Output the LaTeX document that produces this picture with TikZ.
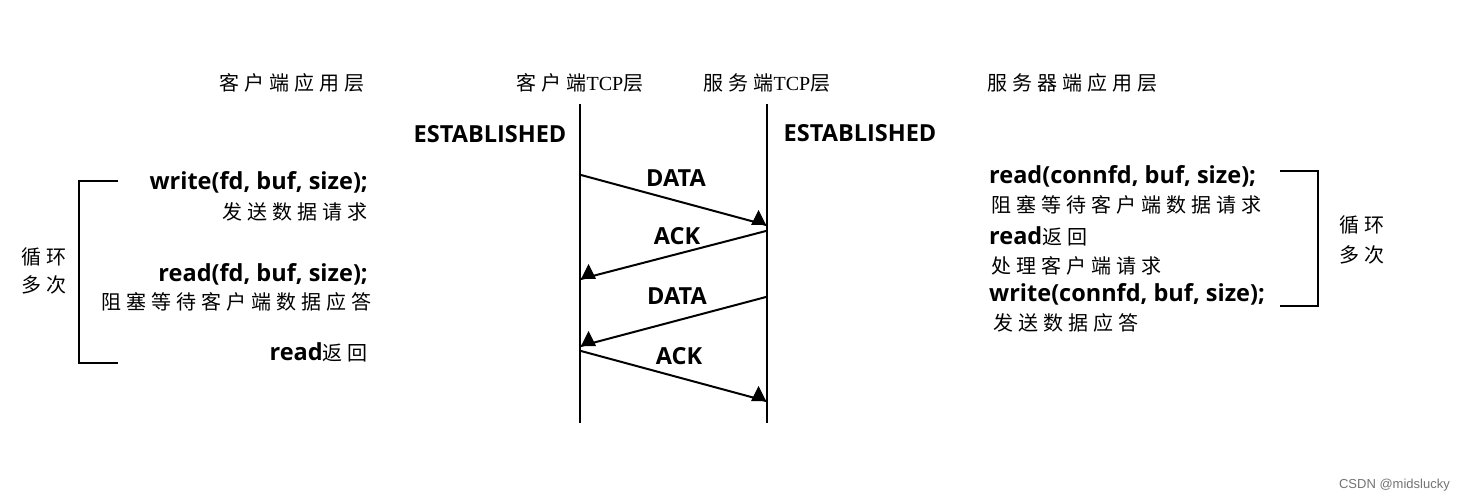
\documentclass[tikz,border=0pt]{standalone}
\usepackage{fontspec}
\setmainfont{Open Sans}
\newfontfamily\cjkf{Noto Sans CJK SC}[LetterSpace=25]
\newfontfamily\tmrf{Liberation Serif}
\newfontfamily\wmf{Liberation Sans}
\usetikzlibrary{arrows.meta}
\newcommand\zht[1]{{\fontsize{20}{24}\selectfont\mdseries\cjkf #1}}
\begin{document}
\begin{tikzpicture}[x=1pt,y=-1pt,
  lat/.style={font=\fontsize{23.5}{26}\selectfont\bfseries, inner sep=0pt},
  zh/.style={font=\fontsize{20}{24}\selectfont\cjkf, inner sep=0pt},
  ttl/.style={font=\fontsize{20}{24}\selectfont\cjkf, inner sep=0pt},
  life/.style={line width=2.6pt},
  msg/.style={line width=2pt},
  brk/.style={line width=2.6pt},
  tipL/.pic={\fill (0,0) -- (-15,0) -- (-7.5,-15) -- cycle;},
  tipR/.pic={\fill (0,0) -- (15,0) -- (7.5,-15) -- cycle;},
  wm/.style={font=\fontsize{13}{15}\selectfont\wmf, text=black!55, inner sep=0pt}]
\path[use as bounding box, fill=white] (0,0) rectangle (1466,502);

% titles
\node[ttl] (t1) at (292,83) {客户端应用层};
\node[ttl] (t2) at (580,83) {客户端{\tmrf TCP}层};
\node[ttl] (t3) at (767,83) {服务端{\tmrf TCP}层};
\node[ttl] (t4) at (1072,83) {服务器端应用层};

% ESTABLISHED
\node[lat] (e1) at (490,134) {ESTABLISHED};
\node[lat] (e2) at (860,133) {ESTABLISHED};

% lifelines
\coordinate (ct) at (580,104);
\coordinate (cb) at (580,423);
\coordinate (st) at (767,104);
\coordinate (sb) at (767,423);
\draw[life] (ct) -- (cb);
\draw[life] (st) -- (sb);

% messages
\coordinate (c1) at (581,175);
\coordinate (s1) at (766,225);
\coordinate (s2) at (766,231);
\coordinate (c2) at (581,279);
\coordinate (s3) at (766,297);
\coordinate (c3) at (581,346);
\coordinate (c4) at (581,351);
\coordinate (s4) at (766,401);
\draw[msg] (c1) -- (s1);
\draw[msg] (s2) -- (c2);
\draw[msg] (s3) -- (c3);
\draw[msg] (c4) -- (s4);
\pic at (s1) {tipL};
\pic at (c2) {tipR};
\pic at (c3) {tipR};
\pic at (s4) {tipL};
\node[lat] (m1) at (676,178) {DATA};
\node[lat] (m2) at (677,236) {ACK};
\node[lat] (m3) at (677,296) {DATA};
\node[lat] (m4) at (679,356) {ACK};

% left application side
\node[lat, anchor=east] (l1) at (368,182) {write(fd, buf, size);};
\node[zh, anchor=east] (l2) at (368,212) {发送数据请求};
\node[lat, anchor=east] (l3) at (368,274) {read(fd, buf, size);};
\node[zh, anchor=east] (l4) at (372,302) {阻塞等待客户端数据应答};
\node[lat, anchor=east] (l5) at (368,352) {read\zht{返回}};

\coordinate (lb1) at (118,181);
\coordinate (lb2) at (79,181);
\coordinate (lb3) at (79,363);
\coordinate (lb4) at (118,363);
\draw[brk] (lb1) -- (lb2) -- (lb3) -- (lb4);
\node[zh] (lc1) at (44,257) {循环};
\node[zh] (lc2) at (44,285) {多次};

% right application side
\node[lat, anchor=west] (r1) at (989,176) {read(connfd, buf, size);};
\node[zh, anchor=west] (r2) at (991,205) {阻塞等待客户端数据请求};
\node[lat, anchor=west] (r3) at (989,236) {read\zht{返回}};
\node[zh, anchor=west] (r4) at (991,266) {处理客户端请求};
\node[lat, anchor=west] (r5) at (989,294) {write(connfd, buf, size);};
\node[zh, anchor=west] (r6) at (993,323) {发送数据应答};

\coordinate (rb1) at (1280,171);
\coordinate (rb2) at (1318,171);
\coordinate (rb3) at (1318,306);
\coordinate (rb4) at (1280,306);
\draw[brk] (rb1) -- (rb2) -- (rb3) -- (rb4);
\node[zh] (rc1) at (1362,225) {循环};
\node[zh] (rc2) at (1362,255) {多次};

\node[wm, anchor=east] (w) at (1450,485) {CSDN @midslucky};
\end{tikzpicture}
\end{document}
